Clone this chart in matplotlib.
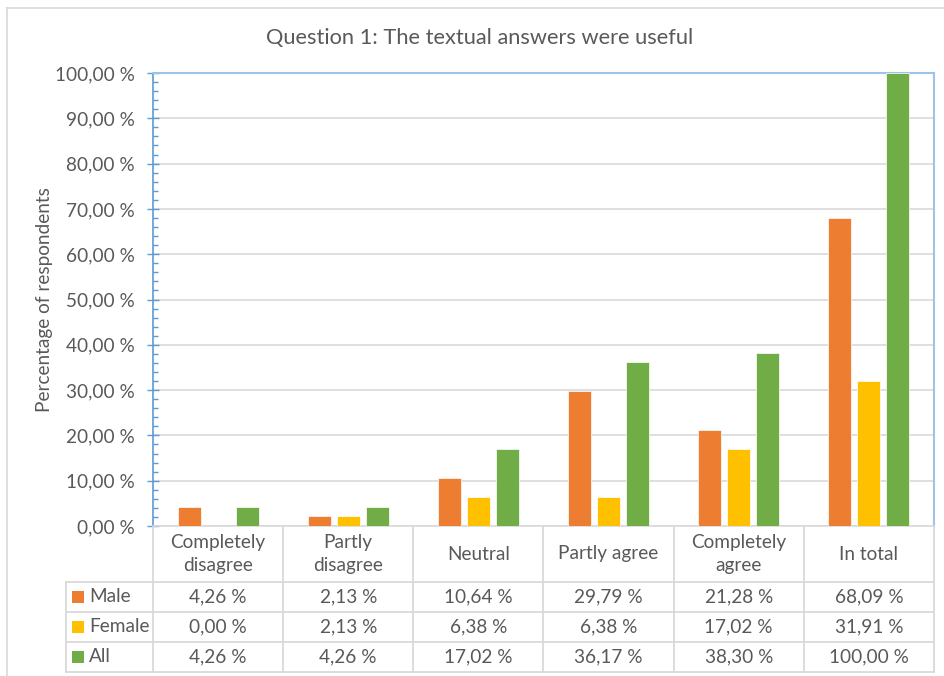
import numpy as np
import matplotlib.pyplot as plt
import matplotlib.transforms as mtransforms
from matplotlib.lines import Line2D
from matplotlib.patches import Rectangle

plt.rcParams['font.family'] = ['Lato', 'DejaVu Sans']

# data
categories = ['Completely\ndisagree', 'Partly\ndisagree', 'Neutral',
              'Partly agree', 'Completely\nagree', 'In total']
series_names = ['Male', 'Female', 'All']
male = [4.26, 2.13, 10.64, 29.79, 21.28, 68.09]
female = [0.00, 2.13, 6.38, 6.38, 17.02, 31.91]
all_resp = [4.26, 4.26, 17.02, 36.17, 38.30, 100.00]
yticks = list(range(0, 101, 10))

colors = ['#ED7D31', '#FFC000', '#70AD47']
text_col = '#595959'
grid_col = '#D9D9D9'
W, H = 944, 676
fs = 13.7


def pct(v):
    return f"{v:.2f}".replace('.', ',') + ' %'


fig = plt.figure(figsize=(W / 100, H / 100), dpi=100)
ax = fig.add_axes([153 / W, 1 - 526 / H, 781 / W, 453 / H])

x = np.arange(len(categories))
series = [male, female, all_resp]
for i, (vals, c) in enumerate(zip(series, colors)):
    ax.bar(x + (i - 1) * 0.223, vals, width=0.177, color=c,
           edgecolor='white', linewidth=0.5, zorder=3)

ax.set_xlim(-0.5, len(categories) - 0.5)
ax.set_ylim(0, 100)
ax.set_xticks([])
ax.set_yticks(yticks)
ax.set_yticklabels([pct(t) for t in yticks])
ax.set_yticks(np.arange(0, 101, 2), minor=True)
ax.tick_params(axis='y', which='major', direction='inout', length=8.6, width=1,
               color='#5B9BD5', labelsize=fs, labelcolor=text_col, pad=9)
ax.tick_params(axis='y', which='minor', direction='in', length=3.6, width=1,
               color='#5B9BD5')
ax.yaxis.grid(True, color=grid_col, lw=1.2)
ax.set_axisbelow(True)

ax.spines['left'].set_color('#5B9BD5')
ax.spines['left'].set_linewidth(1.2)
for s in ['top', 'right']:
    ax.spines[s].set_color('#9DC3E6')
    ax.spines[s].set_linewidth(1.5)
ax.spines['bottom'].set_color(grid_col)
ax.spines['bottom'].set_linewidth(1.2)

ax.set_ylabel('Percentage of respondents', fontsize=fs, color=text_col)
ax.yaxis.set_label_coords(-0.128, 0.5)

fig.text(480 / W, 1 - 38 / H, 'Question 1: The textual answers were useful',
         fontsize=15.7, color=text_col, ha='center', va='center')

# data table under the plot
tr = mtransforms.blended_transform_factory(ax.transData, ax.transAxes)
col_w = 781 / len(categories)
hy = 56 / 453
ry = 30 / 453
x_left = (66 - 153) / col_w - 0.5
x_right = len(categories) - 0.5
bottom = -hy - 3 * ry

line_kw = dict(color=grid_col, lw=1.3, transform=tr, clip_on=False)
for k in range(4):
    yy = -hy - k * ry
    ax.add_line(Line2D([x_left, x_right], [yy, yy], **line_kw))
for k in range(len(categories) + 1):
    ax.add_line(Line2D([k - 0.5, k - 0.5], [0, bottom], **line_kw))
ax.add_line(Line2D([x_left, x_left], [-hy, bottom], **line_kw))

for k, cat in enumerate(categories):
    ax.text(k, -hy / 2, cat, transform=tr, ha='center', va='center',
            fontsize=fs, color=text_col, linespacing=1.4)

sq_w = 12 / col_w
sq_h = 12 / 453
sq_x = (72 - 153) / col_w - 0.5
lab_x = (89 - 153) / col_w - 0.5
for r, (name, vals, c) in enumerate(zip(series_names, series, colors)):
    yc = -hy - (r + 0.5) * ry
    ax.add_patch(Rectangle((sq_x, yc - sq_h / 2), sq_w, sq_h, facecolor=c,
                           edgecolor='none', transform=tr, clip_on=False))
    ax.text(lab_x, yc, name, transform=tr, ha='left', va='center',
            fontsize=fs, color=text_col)
    for k, v in enumerate(vals):
        ax.text(k, yc, pct(v), transform=tr, ha='center', va='center',
                fontsize=fs, color=text_col)

# chart area border
fig.add_artist(Line2D([7 / W, 7 / W], [0, 1 - 8 / H], color=grid_col, lw=1.2))
fig.add_artist(Line2D([7 / W, 1], [1 - 8 / H, 1 - 8 / H], color=grid_col, lw=1.2))

fig.savefig('out.png', dpi=100)
